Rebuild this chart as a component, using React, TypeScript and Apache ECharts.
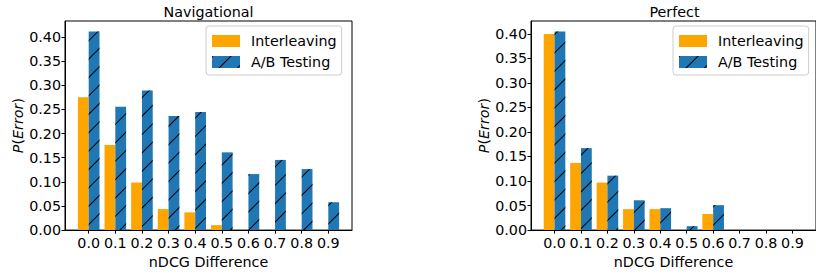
import React, { useEffect, useRef } from "react";
import * as echarts from "echarts";

const categories = [0.0, 0.1, 0.2, 0.3, 0.4, 0.5, 0.6, 0.7, 0.8, 0.9];
const navInterleaving = [0.275, 0.176, 0.0985, 0.0435, 0.0367, 0.0102, 0, 0, 0, 0];
const navABTesting = [0.4115, 0.2553, 0.2893, 0.2363, 0.2445, 0.161, 0.116, 0.1453, 0.1263, 0.0577];
const perfInterleaving = [0.3993, 0.1369, 0.0968, 0.0427, 0.0427, 0, 0.0327, 0, 0, 0];
const perfABTesting = [0.4047, 0.167, 0.1109, 0.0608, 0.0447, 0.008, 0.0508, 0, 0, 0];
const yTickValues = [0, 0.05, 0.1, 0.15, 0.2, 0.25, 0.3, 0.35, 0.4];
const titles = ["Navigational", "Perfect"];
const seriesNames = ["Interleaving", "A/B Testing"];

const FONT = "DejaVu Sans";
const ORANGE = "#FFA500";
const BLUE = "#1f77b4";

export default function App() {
  const ref = useRef<HTMLDivElement>(null);
  useEffect(() => {
    if (!ref.current) return;
    const chart = echarts.init(ref.current, null, { renderer: "svg" });
    const grids = [
      { left: 65, top: 21, width: 287, height: 213 },
      { left: 531, top: 21, width: 287, height: 213 },
    ];
    const yMax = [0.433, 0.426];
    const hatch = {
      symbol: "rect",
      symbolSize: 1,
      color: "#000",
      dashArrayX: [1, 0],
      dashArrayY: [1, 12],
      rotation: -Math.PI / 4,
    };
    const toPairs = (vals: number[]) => categories.map((c, i) => [c, vals[i]]);
    const dataSets = [
      [navInterleaving, navABTesting],
      [perfInterleaving, perfABTesting],
    ];
    const series: any[] = [];
    dataSets.forEach((pair, gi) => {
      pair.forEach((vals, si) => {
        series.push({
          type: "bar",
          name: seriesNames[si],
          xAxisIndex: gi,
          yAxisIndex: gi,
          data: toPairs(vals),
          barWidth: 10.8,
          barGap: "0%",
          itemStyle: si === 1 ? { color: BLUE, decal: hatch } : { color: ORANGE },
          emphasis: { disabled: true },
        });
      });
    });
    const fontSize = 14.3;
    const option: any = {
      animation: false,
      aria: { enabled: false },
      grid: grids.map((g) => ({
        ...g,
        show: true,
        borderColor: "#000",
        borderWidth: 1,
        backgroundColor: "transparent",
        containLabel: false,
      })),
      xAxis: grids.map((_, i) => ({
        type: "value",
        gridIndex: i,
        min: -0.089,
        max: 0.989,
        z: 10,
        name: "nDCG Difference",
        nameLocation: "middle",
        nameGap: 22,
        nameTextStyle: { fontFamily: FONT, fontSize, color: "#000" },
        splitLine: { show: false },
        axisLine: { show: true, onZero: false, lineStyle: { color: "#000", width: 1 } },
        axisTick: {
          show: true,
          length: 3.5,
          inside: false,
          customValues: categories,
          lineStyle: { color: "#000" },
        },
        axisLabel: {
          customValues: categories,
          margin: 6,
          fontFamily: FONT,
          fontSize,
          color: "#000",
          formatter: (v: number) => v.toFixed(1),
        },
      })),
      yAxis: grids.map((_, i) => ({
        type: "value",
        gridIndex: i,
        min: 0,
        max: yMax[i],
        z: 10,
        name: "{i|P}{n|(}{i|Error}{n|)}",
        nameLocation: "middle",
        nameRotate: 90,
        nameGap: 40,
        nameTextStyle: {
          fontFamily: FONT,
          fontSize,
          color: "#000",
          rich: {
            i: { fontFamily: FONT, fontSize, fontStyle: "italic", color: "#000" },
            n: { fontFamily: FONT, fontSize, color: "#000" },
          },
        },
        splitLine: { show: false },
        axisLine: { show: true, onZero: false, lineStyle: { color: "#000", width: 1 } },
        axisTick: {
          show: true,
          length: 3.5,
          inside: false,
          customValues: yTickValues,
          lineStyle: { color: "#000" },
        },
        axisLabel: {
          customValues: yTickValues,
          margin: 4,
          fontFamily: FONT,
          fontSize,
          color: "#000",
          formatter: (v: number) => v.toFixed(2),
        },
      })),
      legend: [206, 673].map((left) => ({
        left,
        top: 26,
        orient: "vertical",
        icon: "rect",
        itemWidth: 28,
        itemHeight: 12,
        itemGap: 5,
        padding: [7, 5, 5, 6],
        borderColor: "#cccccc",
        borderWidth: 1,
        borderRadius: 3,
        backgroundColor: "rgba(255,255,255,0.8)",
        selectedMode: false,
        data: seriesNames,
        textStyle: {
          fontFamily: FONT,
          fontSize,
          color: "#000",
          lineHeight: 16,
          padding: [0, 0, 0, 6],
        },
      })),
      graphic: titles.map((t, i) => ({
        type: "text",
        x: grids[i].left + grids[i].width / 2,
        y: 12,
        style: {
          text: t,
          textAlign: "center",
          textVerticalAlign: "middle",
          fontFamily: FONT,
          fontSize,
          fill: "#000",
        },
      })),
      series,
    };
    chart.setOption(option);
    return () => chart.dispose();
  }, []);
  return (
    <div
      ref={ref}
      style={{ position: "absolute", left: 0, top: 0, width: 816, height: 274, background: "#fff" }}
    />
  );
}
